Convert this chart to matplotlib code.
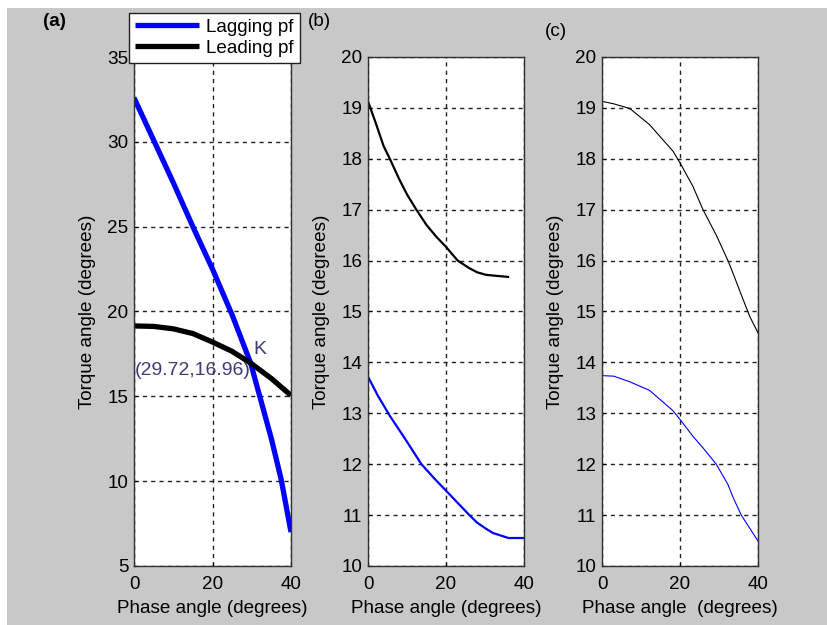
import matplotlib
matplotlib.use("Agg")
import matplotlib.pyplot as plt
from matplotlib.patches import Rectangle

plt.rcParams['font.family'] = ['Liberation Sans', 'DejaVu Sans']

# ---- data ----
phase_a = [0, 5, 10, 15, 20, 25, 29.72, 35, 37.5, 40]
lagging_a = [32.6, 30.1, 27.6, 25.0, 22.5, 19.8, 16.96, 12.5, 10.1, 7.0]
phase_a2 = [0, 5, 10, 15, 20, 25, 29.72, 35, 40]
leading_a = [19.15, 19.12, 18.98, 18.7, 18.2, 17.65, 16.96, 16.05, 15.05]

phase_b_lead = [0, 2, 4, 5.6, 8, 10, 12.4, 15, 17.5, 20, 23, 26, 28, 30.3, 33, 35.9]
leading_b = [19.13, 18.7, 18.25, 18.0, 17.6, 17.3, 17.0, 16.7, 16.47, 16.27, 16.0, 15.85, 15.77, 15.72, 15.7, 15.68]
phase_b_lag = [0, 2.5, 5.6, 9.5, 13.7, 17, 20, 23, 26, 28, 30.3, 32, 34, 36, 40]
lagging_b = [13.72, 13.35, 12.95, 12.5, 12.0, 11.72, 11.48, 11.24, 11.0, 10.85, 10.73, 10.65, 10.6, 10.55, 10.55]

phase_c = [0, 3, 7.1, 12.2, 18.2, 20, 23.3, 25.9, 29.3, 32.3, 33.6, 35.7, 37.9, 40]
leading_c = [19.13, 19.08, 18.99, 18.67, 18.15, 17.92, 17.46, 17.0, 16.5, 16.0, 15.75, 15.33, 14.9, 14.58]
lagging_c = [13.74, 13.73, 13.62, 13.45, 13.05, 12.88, 12.55, 12.32, 12.0, 11.6, 11.35, 11.0, 10.74, 10.49]

xticks = [0, 20, 40]
yticks_a = [5, 10, 15, 20, 25, 30, 35]
yticks_bc = [10, 11, 12, 13, 14, 15, 16, 17, 18, 19, 20]
panel_labels = ['(a)', '(b)', '(c)']
legend_labels = ['Lagging pf', 'Leading pf']
xlabels = ['Phase angle (degrees)', 'Phase angle (degrees)', 'Phase angle  (degrees)']
ylabel = 'Torque angle (degrees)'

W, H = 827, 625
fig = plt.figure(figsize=(W / 100, H / 100), dpi=100, facecolor='white')
fig.patches.append(Rectangle((7 / W, 0), 1 - 7 / W, 1 - 8 / H, transform=fig.transFigure,
                             facecolor='#c8c8c8', edgecolor='none', zorder=-10))

def px(x0, y0, x1, y1):
    return [x0 / W, 1 - y1 / H, (x1 - x0) / W, (y1 - y0) / H]

ax_a = fig.add_axes(px(134, 57, 291, 566))
ax_b = fig.add_axes(px(368, 57, 524, 566))
ax_c = fig.add_axes(px(602, 57, 758, 566))

FS = 13.6

def style(ax, yticks, ylim):
    ax.set_xlim(0, 40)
    ax.set_ylim(*ylim)
    ax.set_xticks(xticks)
    ax.set_yticks(yticks)
    ax.grid(True, color='#202020', linestyle=(0, (3, 3)), linewidth=1.0)
    ax.tick_params(direction='in', length=3, labelsize=FS, pad=4, colors='black')
    ax.tick_params(axis='x', pad=7)
    for s in ax.spines.values():
        s.set_color('#303030')
        s.set_linewidth(1.0)
    ax.set_facecolor('white')
    ax.set_ylabel(ylabel, fontsize=FS, labelpad=8)

la, = ax_a.plot(phase_a, lagging_a, color='#0000ff', lw=3.8, solid_capstyle='butt')
lb, = ax_a.plot(phase_a2, leading_a, color='black', lw=3.8, solid_capstyle='butt')
style(ax_a, yticks_a, (5, 35))
ax_a.set_xlabel(xlabels[0], fontsize=FS, labelpad=5)
ax_a.text(30.3, 17.76, 'K', color='#3c3c78', fontsize=14, ha='left', va='center')
ax_a.text(0.1, 16.52, '(29.72,16.96)', color='#3c3c78', fontsize=14, ha='left', va='center')

ax_b.plot(phase_b_lead, leading_b, color='black', lw=1.6)
ax_b.plot(phase_b_lag, lagging_b, color='#0000ff', lw=1.6)
style(ax_b, yticks_bc, (10, 20))
ax_b.set_xlabel(xlabels[1], fontsize=FS, labelpad=5)

ax_c.plot(phase_c, leading_c, color='black', lw=0.8)
ax_c.plot(phase_c, lagging_c, color='#0000ff', lw=0.8)
style(ax_c, yticks_bc, (10, 20))
ax_c.set_xlabel(xlabels[2], fontsize=FS, labelpad=5)

leg = fig.legend([la, lb], legend_labels, loc='upper left',
                 bbox_to_anchor=(129 / W, 1 - 13 / H), bbox_transform=fig.transFigure,
                 fontsize=FS, frameon=True, fancybox=False, handlelength=3.4,
                 borderpad=0.3, labelspacing=0.2, handletextpad=0.4, borderaxespad=0)
leg.get_frame().set_edgecolor('#202020')
leg.get_frame().set_linewidth(1.0)
leg.get_frame().set_alpha(1)

fig.text(54 / W, 1 - 21 / H, panel_labels[0], fontsize=FS, fontweight='bold', ha='center', va='center')
fig.text(308 / W, 1 - 21 / H, panel_labels[1], fontsize=FS, ha='left', va='center')
fig.text(545 / W, 1 - 31 / H, panel_labels[2], fontsize=FS, ha='left', va='center')

fig.savefig('out.png', dpi=100, facecolor=fig.get_facecolor())
